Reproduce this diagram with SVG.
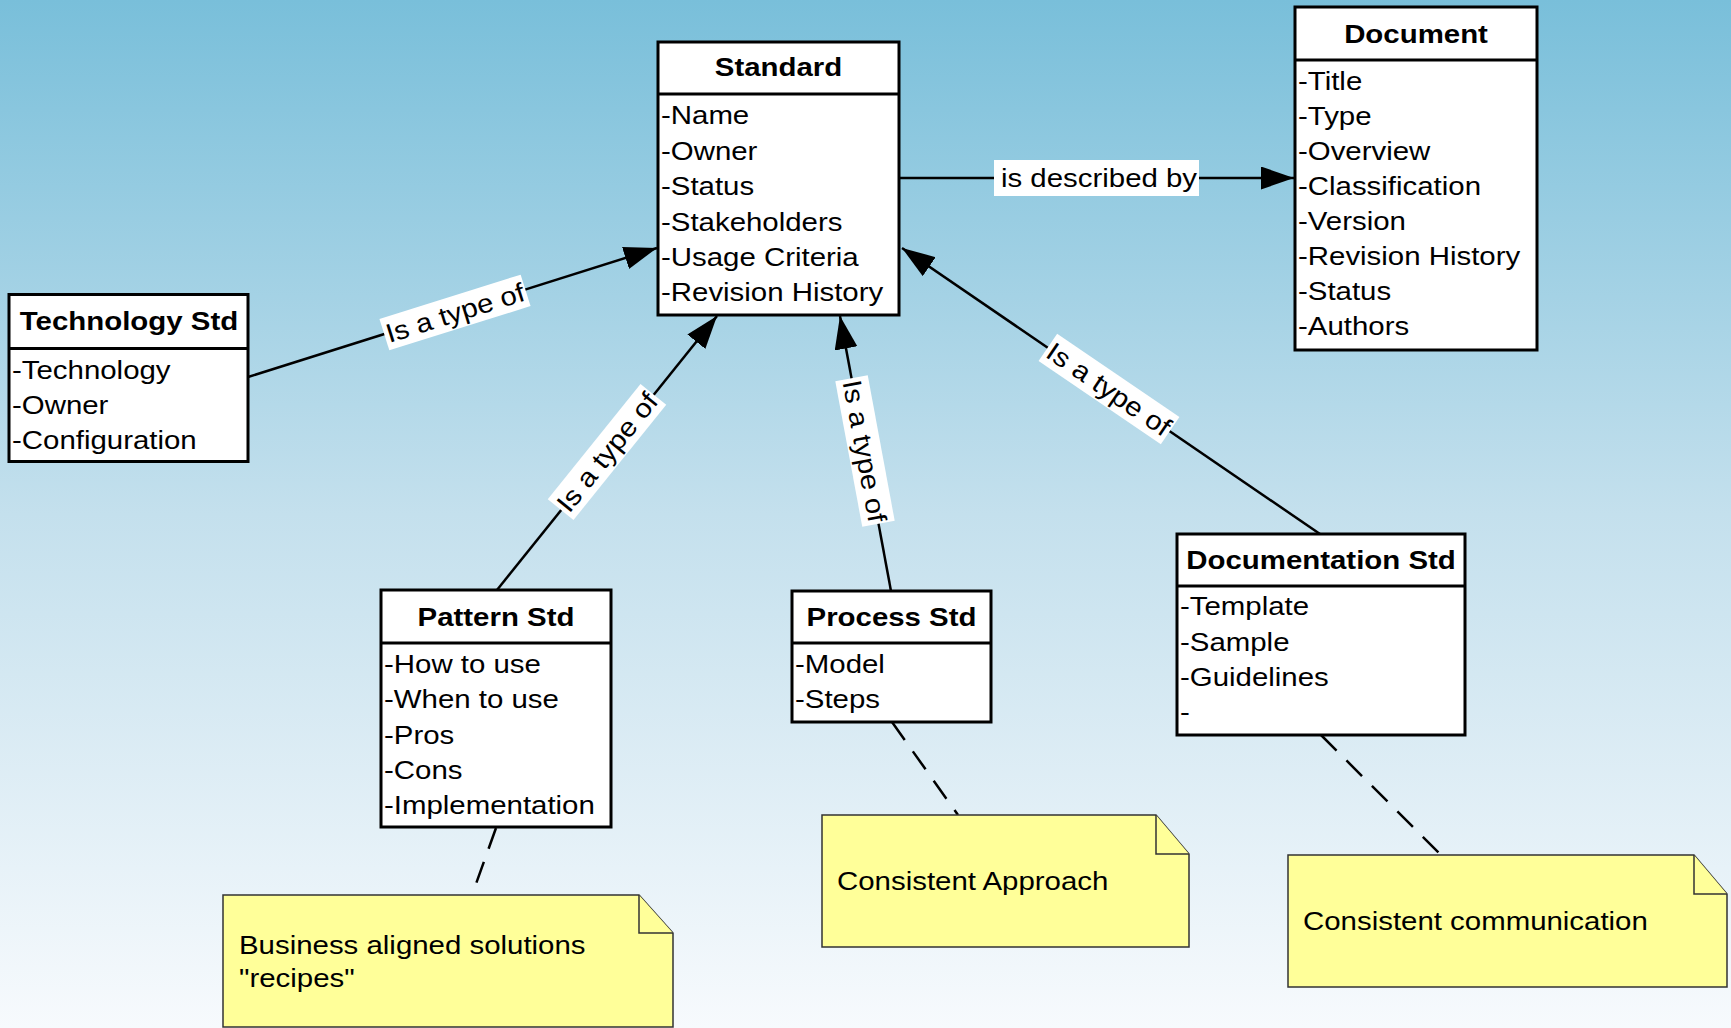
<svg xmlns="http://www.w3.org/2000/svg" width="1731" height="1028" viewBox="0 0 1731 1028">
  <style>
    .box { fill: #ffffff; stroke: #000000; stroke-width: 3; }
    .div { stroke: #000000; stroke-width: 3; }
    .t { font-family: "Liberation Sans", Arial, sans-serif; font-size: 26.5px; fill: #000000; }
    .title { font-weight: bold; text-anchor: middle; }
    .lbl { text-anchor: middle; }
    .lblbg { fill: #ffffff; stroke: none; }
    .conn { stroke: #000000; stroke-width: 2.5; fill: none; }
    .dash { stroke: #000000; stroke-width: 2.5; fill: none; stroke-dasharray: 22 14; }
    .note { fill: #ffff99; stroke: #333333; stroke-width: 1.5; }
  </style>
  <defs>
    <linearGradient id="bg" x1="0" y1="0" x2="0" y2="1">
      <stop offset="0" stop-color="#79bfda"/>
      <stop offset="0.5" stop-color="#c4e0ed"/>
      <stop offset="1" stop-color="#f7fafd"/>
    </linearGradient>
    <marker id="arrow" markerUnits="userSpaceOnUse" markerWidth="34" markerHeight="24" refX="33" refY="11.5" orient="auto">
      <path d="M0,0 L33,11.5 L0,23 Z" fill="#000000"/>
    </marker>
  </defs>

  <rect x="0" y="0" width="1731" height="1028" fill="url(#bg)"/>

  <!-- connectors -->
  <g id="connectors">
    <line class="conn" x1="248" y1="377" x2="657" y2="248" marker-end="url(#arrow)"/>
    <line class="conn" x1="497" y1="590" x2="717" y2="316" marker-end="url(#arrow)"/>
    <line class="conn" x1="891" y1="591" x2="840" y2="316" marker-end="url(#arrow)"/>
    <line class="conn" x1="1320" y1="534" x2="902" y2="248" marker-end="url(#arrow)"/>
    <line class="conn" x1="899" y1="178" x2="1294" y2="178" marker-end="url(#arrow)"/>

    <line class="dash" x1="496" y1="828" x2="472" y2="895"/>
    <line class="dash" x1="892" y1="722" x2="958" y2="815"/>
    <line class="dash" x1="1321" y1="735" x2="1441" y2="855"/>

    <!-- labels -->
    <g transform="translate(455 312.5) rotate(-17.4)">
      <rect class="lblbg" x="-74" y="-16.5" width="148" height="33"/>
      <text class="t lbl" transform="translate(0 9.5) scale(1.11 1)">Is a type of</text>
    </g>
    <g transform="translate(607 452) rotate(-51.2)">
      <rect class="lblbg" x="-74" y="-16.5" width="148" height="33"/>
      <text class="t lbl" transform="translate(0 9.5) scale(1.11 1)">Is a type of</text>
    </g>
    <g transform="translate(865 451) rotate(79.5)">
      <rect class="lblbg" x="-74" y="-16.5" width="148" height="33"/>
      <text class="t lbl" transform="translate(0 9.5) scale(1.11 1)">Is a type of</text>
    </g>
    <g transform="translate(1109 389) rotate(34.3)">
      <rect class="lblbg" x="-74" y="-16.5" width="148" height="33"/>
      <text class="t lbl" transform="translate(0 9.5) scale(1.11 1)">Is a type of</text>
    </g>
    <g>
      <rect class="lblbg" x="994" y="160" width="205" height="36"/>
      <text class="t lbl" transform="translate(1099 187) scale(1.11 1)">is described by</text>
    </g>
  </g>

  <!-- Standard -->
  <g id="standard">
    <rect class="box" x="658" y="42" width="241" height="273"/>
    <line class="div" x1="658" y1="94" x2="899" y2="94"/>
    <text class="t title" transform="translate(778.5 76) scale(1.11 1)">Standard</text>
    <text class="t" transform="translate(661 124) scale(1.11 1)">-Name</text>
    <text class="t" transform="translate(661 159.5) scale(1.11 1)">-Owner</text>
    <text class="t" transform="translate(661 195) scale(1.11 1)">-Status</text>
    <text class="t" transform="translate(661 230.5) scale(1.11 1)">-Stakeholders</text>
    <text class="t" transform="translate(661 266) scale(1.11 1)">-Usage Criteria</text>
    <text class="t" transform="translate(661 301) scale(1.11 1)">-Revision History</text>
  </g>

  <!-- Document -->
  <g id="document">
    <rect class="box" x="1295" y="7" width="242" height="343"/>
    <line class="div" x1="1295" y1="60" x2="1537" y2="60"/>
    <text class="t title" transform="translate(1416 42.5) scale(1.11 1)">Document</text>
    <text class="t" transform="translate(1298 89.5) scale(1.11 1)">-Title</text>
    <text class="t" transform="translate(1298 124.5) scale(1.11 1)">-Type</text>
    <text class="t" transform="translate(1298 159.5) scale(1.11 1)">-Overview</text>
    <text class="t" transform="translate(1298 195) scale(1.11 1)">-Classification</text>
    <text class="t" transform="translate(1298 230) scale(1.11 1)">-Version</text>
    <text class="t" transform="translate(1298 265) scale(1.11 1)">-Revision History</text>
    <text class="t" transform="translate(1298 300) scale(1.11 1)">-Status</text>
    <text class="t" transform="translate(1298 335) scale(1.11 1)">-Authors</text>
  </g>

  <!-- Technology Std -->
  <g id="technology-std">
    <rect class="box" x="9" y="294.5" width="239" height="167"/>
    <line class="div" x1="9" y1="348.5" x2="248" y2="348.5"/>
    <text class="t title" transform="translate(129 330) scale(1.11 1)">Technology Std</text>
    <text class="t" transform="translate(12 378.5) scale(1.11 1)">-Technology</text>
    <text class="t" transform="translate(12 413.5) scale(1.11 1)">-Owner</text>
    <text class="t" transform="translate(12 448.5) scale(1.11 1)">-Configuration</text>
  </g>

  <!-- Pattern Std -->
  <g id="pattern-std">
    <rect class="box" x="381" y="590" width="230" height="237"/>
    <line class="div" x1="381" y1="643" x2="611" y2="643"/>
    <text class="t title" transform="translate(496 626) scale(1.11 1)">Pattern Std</text>
    <text class="t" transform="translate(384 672.5) scale(1.11 1)">-How to use</text>
    <text class="t" transform="translate(384 708) scale(1.11 1)">-When to use</text>
    <text class="t" transform="translate(384 743.5) scale(1.11 1)">-Pros</text>
    <text class="t" transform="translate(384 778.5) scale(1.11 1)">-Cons</text>
    <text class="t" transform="translate(384 813.5) scale(1.11 1)">-Implementation</text>
  </g>

  <!-- Process Std -->
  <g id="process-std">
    <rect class="box" x="792" y="591" width="199" height="131"/>
    <line class="div" x1="792" y1="643" x2="991" y2="643"/>
    <text class="t title" transform="translate(891.5 626) scale(1.11 1)">Process Std</text>
    <text class="t" transform="translate(795 672.5) scale(1.11 1)">-Model</text>
    <text class="t" transform="translate(795 708) scale(1.11 1)">-Steps</text>
  </g>

  <!-- Documentation Std -->
  <g id="documentation-std">
    <rect class="box" x="1177" y="534" width="288" height="201"/>
    <line class="div" x1="1177" y1="586" x2="1465" y2="586"/>
    <text class="t title" transform="translate(1321 569) scale(1.11 1)">Documentation Std</text>
    <text class="t" transform="translate(1180 615) scale(1.11 1)">-Template</text>
    <text class="t" transform="translate(1180 650.5) scale(1.11 1)">-Sample</text>
    <text class="t" transform="translate(1180 686) scale(1.11 1)">-Guidelines</text>
    <text class="t" transform="translate(1180 721) scale(1.11 1)">-</text>
  </g>

  <!-- notes -->
  <g id="note-pattern">
    <path class="note" d="M223,895 L639,895 L673,933 L673,1027 L223,1027 Z"/>
    <path class="note" d="M639,895 L639,933 L673,933"/>
    <text class="t" transform="translate(239 953.5) scale(1.11 1)">Business aligned solutions</text>
    <text class="t" transform="translate(239 987) scale(1.11 1)">"recipes"</text>
  </g>
  <g id="note-process">
    <path class="note" d="M822,815 L1156,815 L1189,854 L1189,947 L822,947 Z"/>
    <path class="note" d="M1156,815 L1156,854 L1189,854"/>
    <text class="t" transform="translate(837 890) scale(1.11 1)">Consistent Approach</text>
  </g>
  <g id="note-documentation">
    <path class="note" d="M1288,855 L1694,855 L1727,894 L1727,987 L1288,987 Z"/>
    <path class="note" d="M1694,855 L1694,894 L1727,894"/>
    <text class="t" transform="translate(1303 930) scale(1.11 1)">Consistent communication</text>
  </g>
</svg>
